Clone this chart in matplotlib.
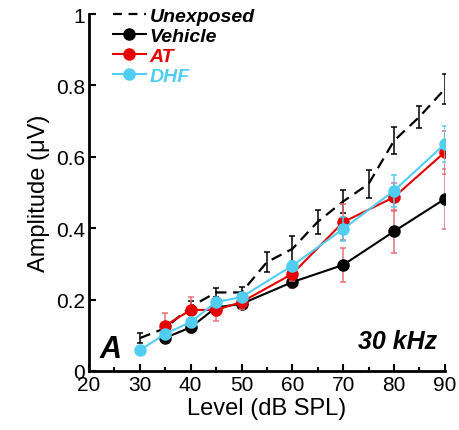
import numpy as np
import matplotlib.pyplot as plt
from matplotlib.ticker import MultipleLocator
from matplotlib.lines import Line2D

plt.rcParams['font.family'] = ['Liberation Sans', 'DejaVu Sans']

# sound levels (dB SPL)
lv_unexp = [30, 35, 40, 45, 50, 55, 60, 65, 70, 75, 80, 85, 90]
lv_treat = [35, 40, 45, 50, 60, 70, 80, 90]
lv_dhf = [30, 35, 40, 45, 50, 60, 70, 80, 90]

unexposed = [0.092, 0.12, 0.18, 0.22, 0.22, 0.305, 0.342, 0.418, 0.475, 0.524, 0.645, 0.712, 0.79]
unexposed_err = [0.013, 0.012, 0.015, 0.012, 0.015, 0.027, 0.037, 0.033, 0.033, 0.04, 0.038, 0.031, 0.042]

vehicle = [0.093, 0.122, 0.178, 0.188, 0.249, 0.297, 0.391, 0.482]
vehicle_err = [0.01, 0.016, 0.012, 0.012, 0.016, 0.047, 0.06, 0.083]

at = [0.127, 0.171, 0.171, 0.193, 0.272, 0.417, 0.487, 0.613]
at_err = [0.035, 0.036, 0.03, 0.02, 0.02, 0.05, 0.04, 0.06]

dhf = [0.058, 0.104, 0.137, 0.193, 0.207, 0.295, 0.398, 0.505, 0.636]
dhf_err = [0.005, 0.01, 0.012, 0.01, 0.012, 0.012, 0.033, 0.045, 0.05]

RED = '#e60000'
CYAN = '#52cdf2'
ERR_RED = '#e8707a'
MS = 8

fig = plt.figure(figsize=(4.6, 4.31), dpi=100)
ax = fig.add_axes([0.1935, 0.137, 0.7735, 0.828])

ax.errorbar(lv_unexp, unexposed, yerr=unexposed_err, color='black', lw=1.6,
            ls=(0, (5, 3)), capsize=2, elinewidth=1.1, capthick=1.1, zorder=2)
ax.errorbar(lv_treat, vehicle, yerr=vehicle_err, color='black', marker='o', ms=MS,
            lw=1.5, ecolor=ERR_RED, capsize=2, elinewidth=1.1, capthick=1.1, zorder=3)
ax.errorbar(lv_treat, at, yerr=at_err, color=RED, marker='o', ms=MS,
            lw=1.5, ecolor=ERR_RED, capsize=2, elinewidth=1.1, capthick=1.1, zorder=4)
ax.errorbar(lv_dhf, dhf, yerr=dhf_err, color=CYAN, marker='o', ms=MS,
            lw=1.5, capsize=2, elinewidth=1.1, capthick=1.1, zorder=5)

ax.set_xlim(20, 90)
ax.set_ylim(0, 1)
ax.xaxis.set_major_locator(MultipleLocator(10))
ax.xaxis.set_minor_locator(MultipleLocator(5))
ax.set_yticks([0, 0.2, 0.4, 0.6, 0.8, 1.0])
ax.set_yticklabels(['0', '0.2', '0.4', '0.6', '0.8', '1'])

for pos in ['top', 'right']:
    ax.spines[pos].set_visible(False)
for pos in ['left', 'bottom']:
    ax.spines[pos].set_linewidth(2)

ax.tick_params(axis='both', which='major', direction='in', length=5, width=1.5,
               labelsize=15, pad=3)
ax.tick_params(axis='x', which='minor', direction='in', length=3, width=1.5)

ax.set_xlabel('Level (dB SPL)', fontsize=17, labelpad=2)
ax.set_ylabel('Amplitude (\u03bcV)', fontsize=17, labelpad=4)

handles = [
    Line2D([], [], color='black', lw=1.6, ls=(0, (4, 3))),
    Line2D([], [], color='black', lw=1.5, marker='o', ms=MS),
    Line2D([], [], color=RED, lw=1.5, marker='o', ms=MS),
    Line2D([], [], color=CYAN, lw=1.5, marker='o', ms=MS),
]
leg = ax.legend(handles, ['Unexposed', 'Vehicle', 'AT', 'DHF'],
                loc='upper left', bbox_to_anchor=(0.045, 1.04), frameon=False,
                handlelength=1.7, handletextpad=0.2, labelspacing=0.12,
                borderaxespad=0, prop={'weight': 'bold', 'style': 'italic', 'size': 14})
for txt, col in zip(leg.get_texts(), ['black', 'black', RED, CYAN]):
    txt.set_color(col)

ax.text(0.03, 0.02, 'A', transform=ax.transAxes, fontsize=22,
        fontweight='bold', fontstyle='italic', ha='left', va='bottom')
ax.text(0.978, 0.05, '30 kHz', transform=ax.transAxes, fontsize=18,
        fontweight='bold', fontstyle='italic', ha='right', va='bottom')

fig.savefig('out.png', dpi=100)
